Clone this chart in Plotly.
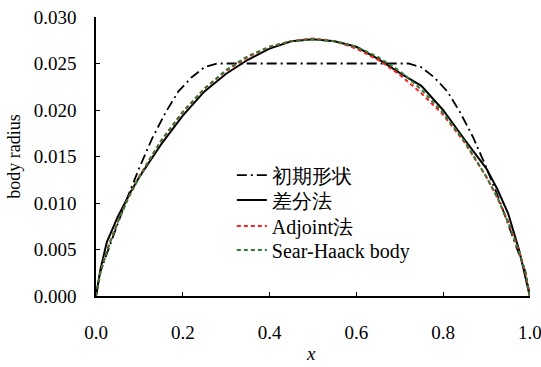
import plotly.graph_objects as go

# Initial shape (dash-dot)
x_init = [0.0, 0.01, 0.03, 0.05, 0.07, 0.10, 0.13, 0.16, 0.19, 0.22, 0.25, 0.28,
          0.72, 0.75, 0.78, 0.81, 0.84, 0.87, 0.90, 0.93, 0.95, 0.97, 0.99, 1.0]
y_init = [0.0, 0.0026, 0.0052, 0.0078, 0.0103, 0.0138, 0.0170, 0.0197, 0.0220, 0.0235, 0.0246, 0.0250,
          0.0250, 0.0246, 0.0235, 0.0220, 0.0197, 0.0170, 0.0138, 0.0103, 0.0078, 0.0052, 0.0026, 0.0]

# Finite difference method (solid)
x_fd = [0.0, 0.01, 0.025, 0.05, 0.08, 0.10, 0.15, 0.20, 0.25, 0.30, 0.35, 0.40, 0.45, 0.50,
        0.55, 0.60, 0.65, 0.70, 0.75, 0.80, 0.85, 0.90, 0.925, 0.95, 0.975, 0.99, 1.0]
y_fd = [0.0, 0.0028, 0.0058, 0.0085, 0.0112, 0.0128, 0.0163, 0.0194, 0.0220, 0.0239, 0.0254, 0.0266, 0.0274, 0.0276,
        0.0274, 0.0268, 0.0255, 0.0240, 0.0226, 0.0200, 0.0168, 0.0137, 0.0115, 0.0089, 0.0050, 0.0020, 0.0]

# Common x for adjoint and Sears-Haack
x_sh = [0.0, 0.01, 0.025, 0.05, 0.075, 0.10, 0.15, 0.20, 0.25, 0.30, 0.35, 0.40, 0.45, 0.50,
        0.55, 0.60, 0.65, 0.70, 0.75, 0.80, 0.85, 0.90, 0.925, 0.95, 0.975, 0.99, 1.0]
y_adj = [0.0, 0.0025, 0.0049, 0.0080, 0.0106, 0.0129, 0.0167, 0.0198, 0.0223, 0.0242, 0.0257, 0.0268, 0.0274, 0.0277,
         0.0274, 0.0266, 0.0254, 0.0238, 0.0218, 0.0195, 0.0165, 0.0128, 0.0106, 0.0080, 0.0049, 0.0025, 0.0]
y_sh = [0.0, 0.0025, 0.0048, 0.0079, 0.0106, 0.0128, 0.0167, 0.0198, 0.0223, 0.0243, 0.0258, 0.0268, 0.0274, 0.0276,
        0.0274, 0.0268, 0.0257, 0.0242, 0.0222, 0.0197, 0.0166, 0.0128, 0.0106, 0.0079, 0.0048, 0.0025, 0.0]

names = ["初期形状", "差分法", "Adjoint法", "Sear-Haack body"]
x_ticks = [0.0, 0.2, 0.4, 0.6, 0.8, 1.0]
y_ticks = [0.000, 0.005, 0.010, 0.015, 0.020, 0.025, 0.030]

FONT = "Liberation Serif"

fig = go.Figure()
fig.add_trace(go.Scatter(x=x_init, y=y_init, mode="lines", name=names[0], legend="legend",
                         line=dict(color="black", width=1.8, dash="10px,4px,2px,4px")))
fig.add_trace(go.Scatter(x=x_fd, y=y_fd, mode="lines", name=names[1], legend="legend2",
                         line=dict(color="black", width=2)))
fig.add_trace(go.Scatter(x=x_sh, y=y_adj, mode="lines", name=names[2], legend="legend3",
                         line=dict(color="#ff2020", width=2, dash="4px,3px")))
fig.add_trace(go.Scatter(x=x_sh, y=y_sh, mode="lines", name=names[3], legend="legend4",
                         line=dict(color="#2e7d3a", width=2, dash="4px,3px")))

def leg(yv):
    return dict(x=0.313, y=yv, xanchor="left", yanchor="middle",
                bgcolor="rgba(0,0,0,0)", borderwidth=0,
                font=dict(family=FONT, size=20, color="black"))

fig.update_layout(
    width=541, height=367,
    margin=dict(l=96, r=11, t=17, b=71),
    paper_bgcolor="white", plot_bgcolor="white",
    font=dict(family=FONT, size=18, color="black"),
    showlegend=True,
    legend=leg(0.433), legend2=leg(0.344), legend3=leg(0.251), legend4=leg(0.165),
    xaxis=dict(range=[0, 1.0005], tickvals=x_ticks, ticktext=["0.0", "0.2", "0.4", "0.6", "0.8", "1.0"],
               showgrid=False, zeroline=False, showline=True, linecolor="black", linewidth=1.5,
               ticks="inside", ticklen=4, tickwidth=1, tickcolor="black",
               ticklabelstandoff=18, ticklabeloverflow="allow", automargin=False,
               tickfont=dict(family=FONT, size=19)),
    yaxis=dict(range=[0, 0.030], tickvals=y_ticks,
               ticktext=["0.000", "0.005", "0.010", "0.015", "0.020", "0.025", "0.030"],
               showgrid=False, zeroline=False, showline=True, linecolor="black", linewidth=1.5,
               ticks="inside", ticklen=4, tickwidth=1, tickcolor="black",
               ticklabelstandoff=14, automargin=False,
               tickfont=dict(family=FONT, size=19),
               title=dict(text="body radius", standoff=8, font=dict(family=FONT, size=18))),
    annotations=[dict(text="<i>x</i>", xref="paper", yref="paper", x=0.495, y=-0.252,
                      xanchor="center", yanchor="bottom", showarrow=False,
                      font=dict(family=FONT, size=19, color="black"))],
)

fig.write_html("out.html")
